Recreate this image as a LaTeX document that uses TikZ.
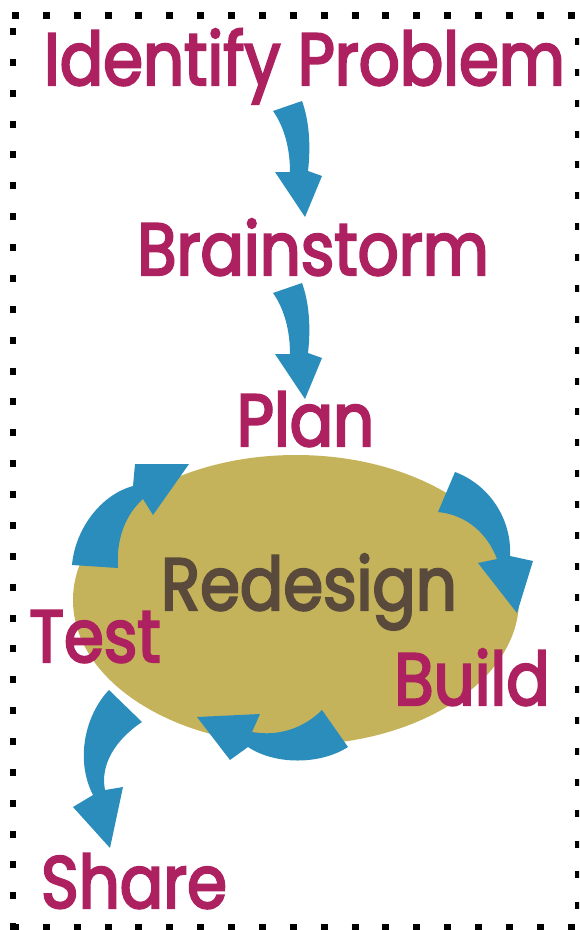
\documentclass[tikz,border=0pt]{standalone}
\usepackage{fontspec}
\setmainfont{Poppins}
\newfontfamily\stagefont{Poppins}[FakeBold=3, FakeStretch=0.87]
\usetikzlibrary{positioning}
\definecolor{stagered}{HTML}{AD2160}
\definecolor{loopblue}{HTML}{2A8DBB}
\definecolor{blobgold}{HTML}{C4B35A}
\definecolor{centrebrown}{HTML}{594A3B}
\tikzset{
  stage/.style={text=stagered, font=\stagefont\fontsize{42}{42}\selectfont, inner sep=0pt, anchor=base},
  bigarrow/.style={fill=loopblue},
  dotborder/.style={line width=3.97pt, dash pattern=on 3.97pt off 13.6pt}
}
\begin{document}
\begin{tikzpicture}[x=0.02cm, y=-0.02cm]
			\useasboundingbox (0,0) rectangle (579,930);
			\clip (0,0) rectangle (579,930);
			
			% dotted frame
			\draw[dotborder] (12,15.5) -- (579,15.5);
			\draw[dotborder] (13,28) -- (13,930);
			\draw[dotborder] (578,38) -- (578,930);
			\draw[dotborder] (12,927) -- (579,927);
			
			% the redesign loop
			\fill[blobgold] (296,600) ellipse [x radius=223, y radius=145];
			
			% straight steps
			\foreach \dy in {0,182} {
				\fill[bigarrow, yshift=-\dy*0.02cm] (273,111) .. controls (285,128) and (290,150) .. (290,172) -- (275,172) -- (305,217) -- (322,176) -- (308,171) .. controls (311,145) and (309,120) .. (302,101) -- cycle;
			}
			
			% loop arrows
			\fill[bigarrow] (72,565) .. controls (75,530) and (100,495) .. (133,486) -- (135,464) -- (189,464) -- (153,515) -- (143,499) .. controls (125,515) and (116,540) .. (118,568) -- cycle;
			\fill[bigarrow] (455,472) .. controls (490,485) and (512,520) .. (510,556) -- (533,561) -- (517,613) -- (478,563) -- (497,559) .. controls (488,535) and (468,515) .. (438,512) -- cycle;
			\fill[bigarrow] (322,710) .. controls (305,727) and (280,737) .. (252,732) -- (260,714) -- (197,717) -- (230,760) -- (248,747) .. controls (275,765) and (320,765) .. (348,747) -- cycle;
			\fill[bigarrow] (109,690) .. controls (85,715) and (75,760) .. (93,795) -- (73,807) -- (110,848) -- (123,787) -- (105,790) .. controls (100,765) and (115,740) .. (142,722) -- cycle;
			
			\node[stage] (identify) at (304.5,85) {Identify Problem};
			\node[stage] (brainstorm) at (313,275) {Brainstorm};
			\node[stage] (plan) at (305.5,446) {Plan};
			\node[stage, text=centrebrown] (redesign) at (309,610) {Redesign};
			\node[stage] (test) at (95,662) {Test};
			\node[stage] (build) at (472,705) {Build};
			\node[stage] (share) at (134,908) {Share};
		\end{tikzpicture}
\end{document}
